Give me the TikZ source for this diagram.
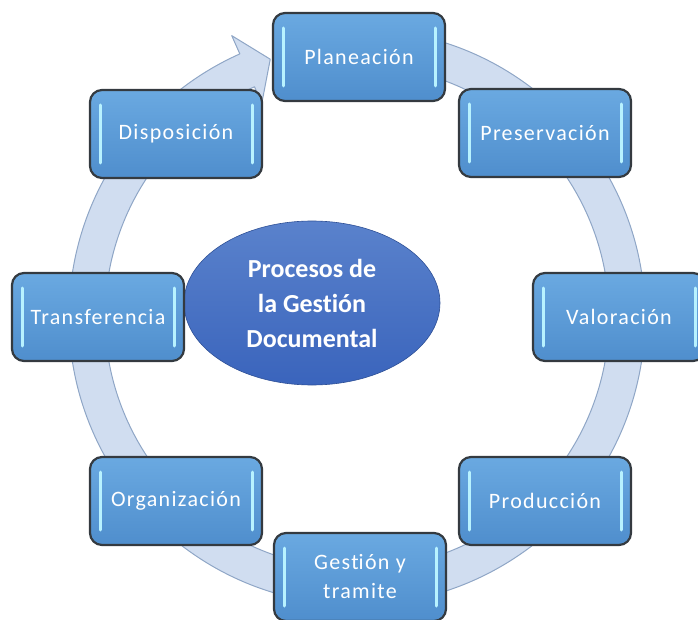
\documentclass[tikz,border=0pt]{standalone}
\usepackage{fontspec}
\setmainfont[Ligatures=NoCommon]{Carlito}
\newfontfamily\boxfont[LetterSpace=6,Ligatures=NoCommon]{Carlito}
\usetikzlibrary{shapes.geometric}

\definecolor{boxtop}{HTML}{6AA9E1}
\definecolor{boxbot}{HTML}{4F8ECD}
\definecolor{boxline}{HTML}{343A40}
\definecolor{glowline}{HTML}{B8F2FF}
\definecolor{elltop}{HTML}{5A82CC}
\definecolor{ellbot}{HTML}{3A64BC}
\definecolor{ringfill}{HTML}{D0DDF0}
\definecolor{ringline}{HTML}{8FA6C6}

% keeps t and i apart
\newcommand{\nolig}{\kern0pt{}}

\tikzset{
	procbox/.style={rectangle, rounded corners=12pt, minimum width=172pt, minimum height=88pt,
		inner sep=0pt, align=center, text=white, font=\boxfont\fontsize{22}{29}\selectfont,
		top color=boxtop, bottom color=boxbot, draw=boxline, line width=2.2pt,
		path picture={
			\draw[glowline, line width=3pt, line cap=round]
				([xshift=10pt,yshift=-15pt]path picture bounding box.north west) --
				([xshift=10pt,yshift=15pt]path picture bounding box.south west);
			\draw[glowline, line width=3pt, line cap=round]
				([xshift=-10pt,yshift=-15pt]path picture bounding box.north east) --
				([xshift=-10pt,yshift=15pt]path picture bounding box.south east);
		}},
	hub/.style={ellipse, minimum width=256pt, minimum height=164pt, inner sep=0pt,
		align=center, text=white, font=\bfseries\fontsize{26}{35}\selectfont,
		top color=elltop, bottom color=ellbot, draw=ellbot!80!black, line width=0.6pt}
}

\begin{document}
\begin{tikzpicture}[x=1pt, y=1pt]
		\useasboundingbox (0,0) rectangle (698,-620);
		
		% Circular arrow running clockwise round the cycle
		\begin{scope}[shift={(357,-317)}]
			\draw[fill=ringfill, draw=ringline, line width=1pt, line join=round]
				(80:288) arc[start angle=80, end angle=-246, radius=288]
				-- (-246:308) -- (-251.4:272) -- (-246:234) -- (-246:252)
				arc[start angle=-246, end angle=80, radius=252] -- cycle;
		\end{scope}
		
		% Central ellipse
		\node[hub] (core) at (312,-303) {Procesos de\\ la Gest\nolig ión\\ Documental};
		
		% Process boxes round the ring
		\node[procbox] (plan) at (359,-57) {Planeación};
		\node[procbox] (pres) at (545,-133) {Preservación};
		\node[procbox] (valo) at (619,-317) {Valoración};
		\node[procbox] (prod) at (545,-501) {Producción};
		\node[procbox] (gest) at (360,-577) {Gest\nolig ión y\\ tramite};
		\node[procbox] (orga) at (176,-501) {Organización};
		\node[procbox] (tran) at (98,-317) {Transferencia};
		\node[procbox] (disp) at (176,-134) {Disposición};
		
	\end{tikzpicture}
\end{document}
